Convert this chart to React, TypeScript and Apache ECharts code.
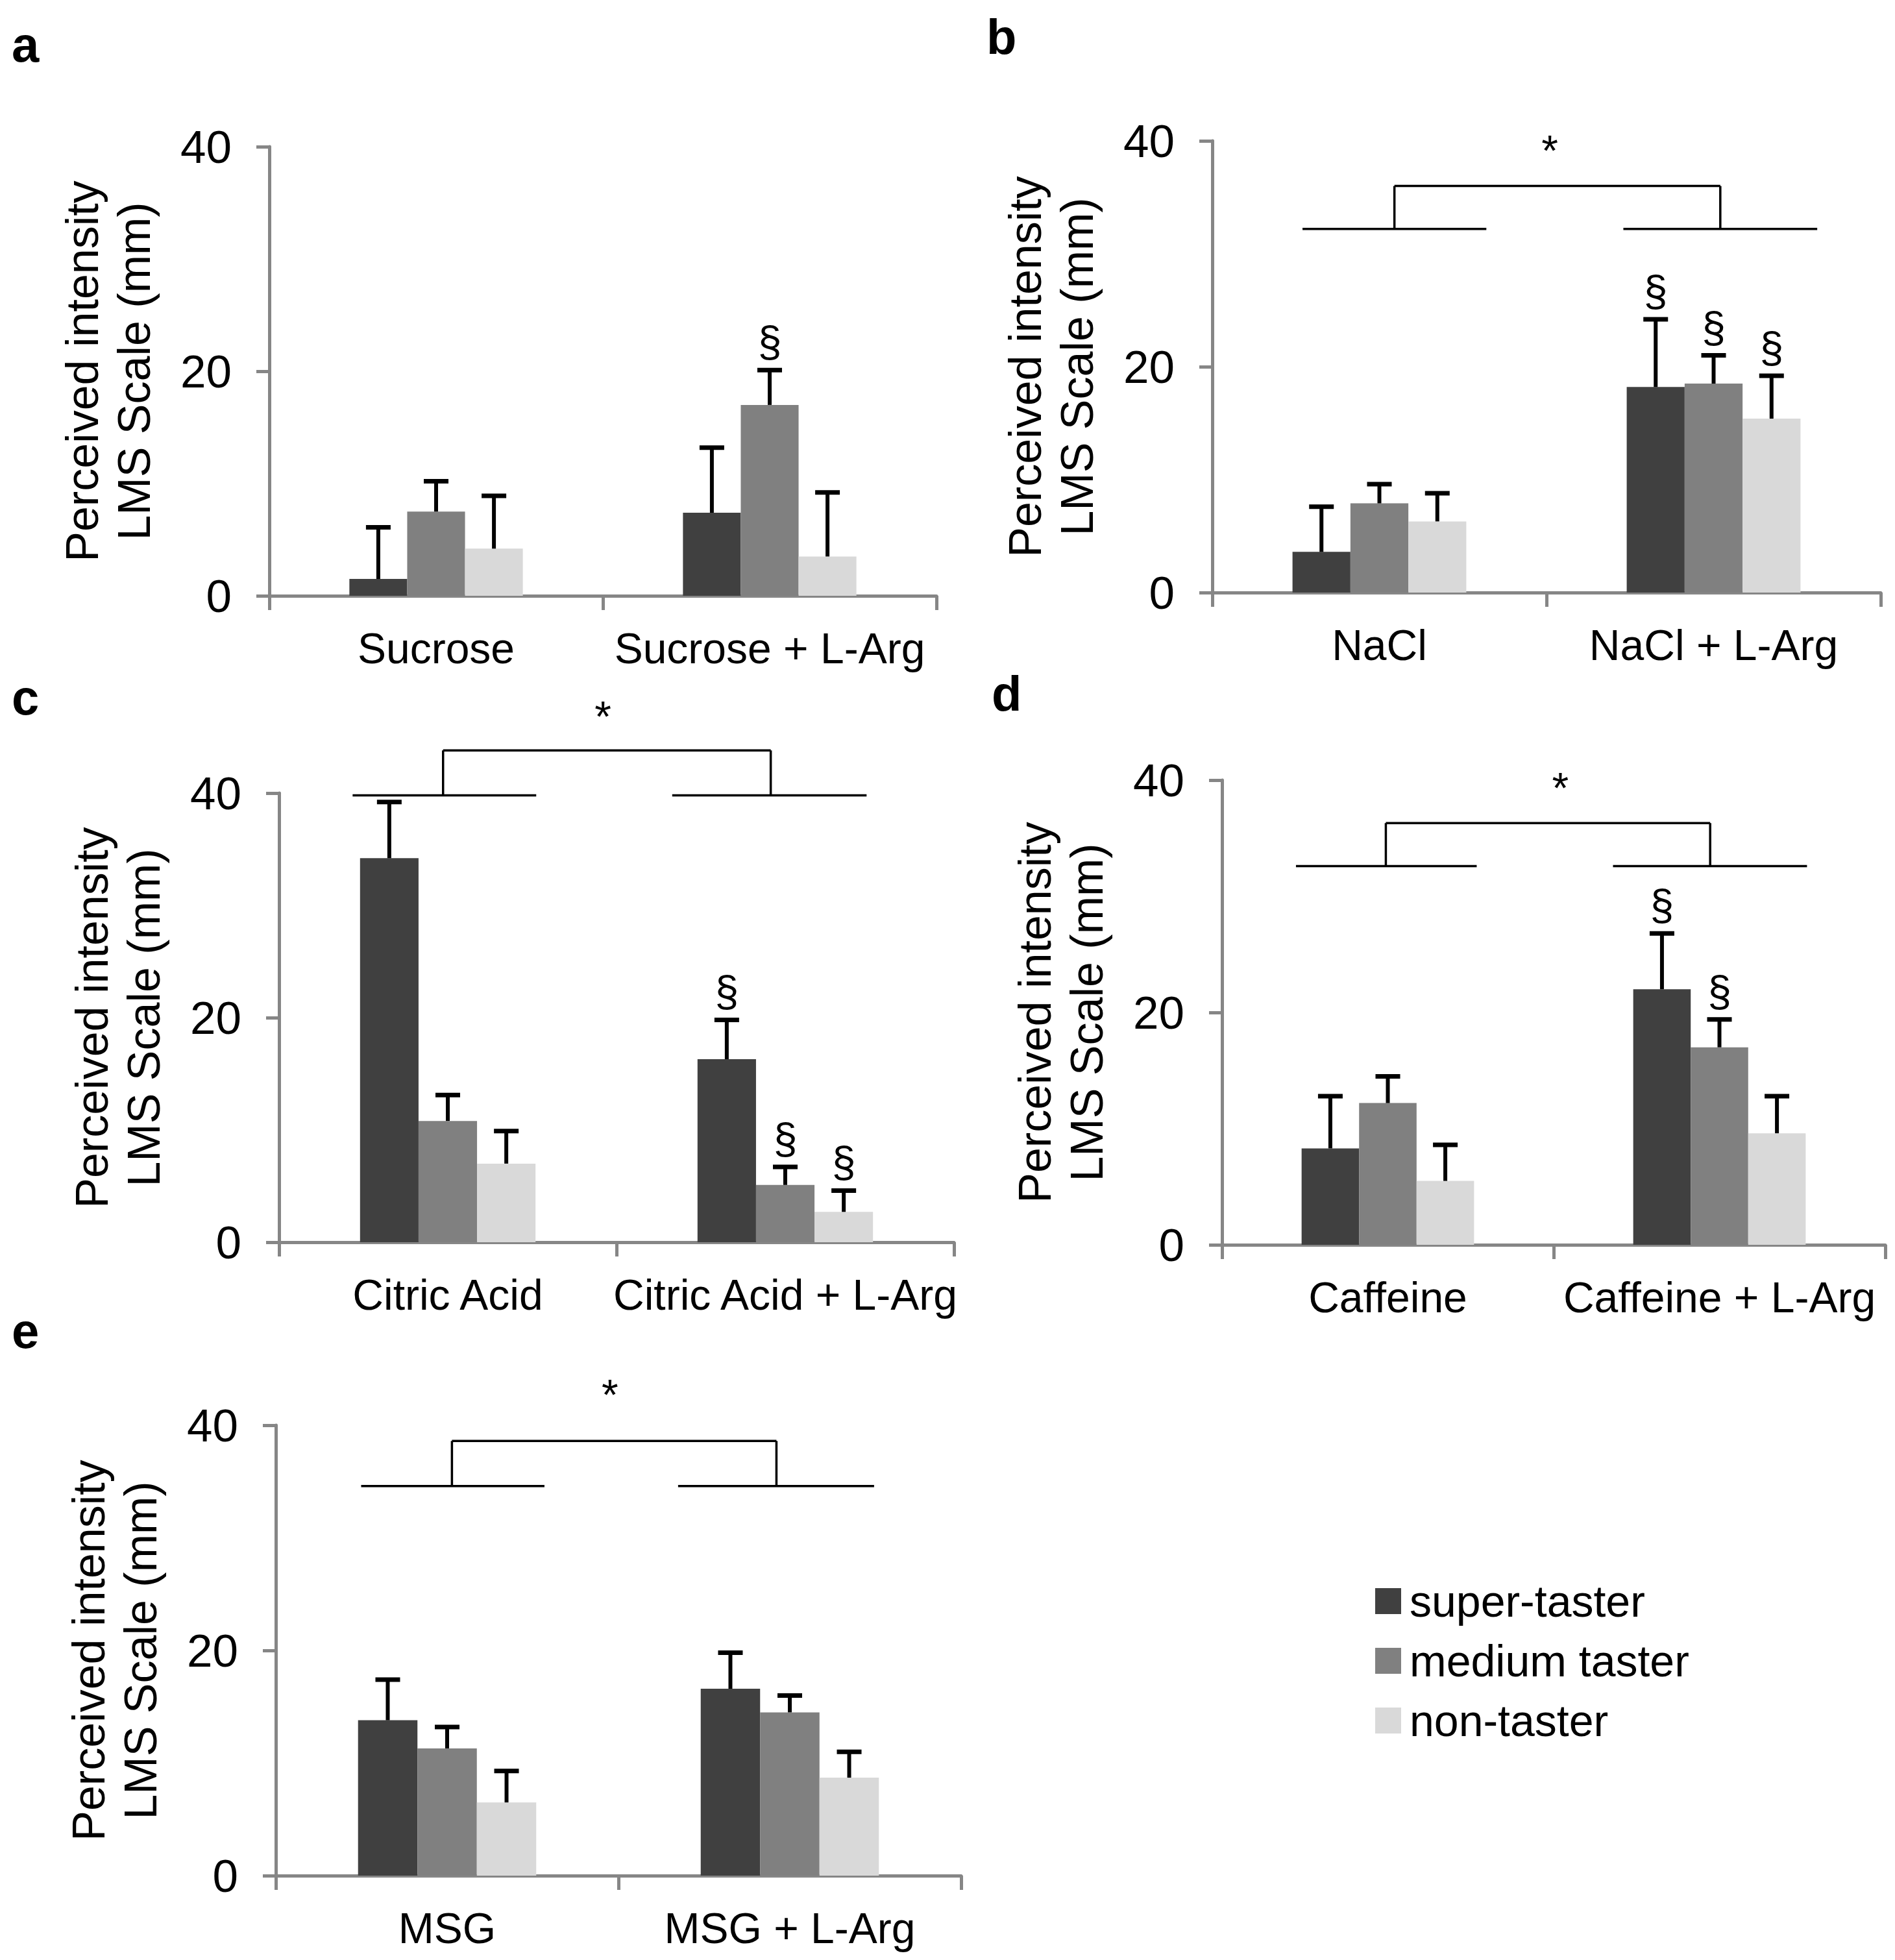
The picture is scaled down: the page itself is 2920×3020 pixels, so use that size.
import React, { useEffect, useRef } from 'react';
import * as echarts from 'echarts';

// taster groups and bar colours
const GROUPS = ['super-taster', 'medium taster', 'non-taster'];
const COLORS = ['#404040', '#808080', '#d9d9d9'];

// panel a
const catA = ['Sucrose', 'Sucrose + L-Arg'];
const meanA = [[1.5, 7.4], [7.5, 17.0], [4.2, 3.5]];
const errA = [[4.6, 5.8], [2.7, 3.1], [4.7, 5.7]];
const sigA = [[0, 0], [0, 1], [0, 0]];

// panel b
const catB = ['NaCl', 'NaCl + L-Arg'];
const meanB = [[3.6, 18.2], [7.9, 18.5], [6.3, 15.4]];
const errB = [[4.0, 6.0], [1.7, 2.5], [2.5, 3.8]];
const sigB = [[0, 1], [0, 1], [0, 1]];

// panel c
const catC = ['Citric Acid', 'Citric Acid + L-Arg'];
const meanC = [[34.2, 16.3], [10.8, 5.1], [7.0, 2.7]];
const errC = [[5.0, 3.5], [2.3, 1.6], [2.9, 1.9]];
const sigC = [[0, 1], [0, 1], [0, 1]];

// panel d
const catD = ['Caffeine', 'Caffeine + L-Arg'];
const meanD = [[8.3, 22.0], [12.2, 17.0], [5.5, 9.6]];
const errD = [[4.5, 4.8], [2.3, 2.4], [3.1, 3.2]];
const sigD = [[0, 1], [0, 1], [0, 0]];

// panel e
const catE = ['MSG', 'MSG + L-Arg'];
const meanE = [[13.8, 16.6], [11.3, 14.5], [6.5, 8.7]];
const errE = [[3.6, 3.2], [1.9, 1.5], [2.8, 2.3]];
const sigE = [[0, 0], [0, 0], [0, 0]];

const Y_TICKS = [0, 20, 40];

// significance brackets: [leftFrom, leftTo, rightFrom, rightTo, legL, legR, low, high, starX, starY]
const bracketB = [0.27, 0.82, 1.23, 1.81, 0.545, 1.52, 32.2, 36.0, 1.01, 39.7];
const bracketC = [0.218, 0.762, 1.165, 1.741, 0.486, 1.457, 39.8, 43.8, 0.96, 47.4];
const bracketD = [0.223, 0.768, 1.179, 1.764, 0.494, 1.472, 32.6, 36.3, 1.02, 39.9];
const bracketE = [0.249, 0.784, 1.174, 1.746, 0.514, 1.461, 34.6, 38.6, 0.975, 43.3];

const FONT = '"Liberation Sans", Arial, sans-serif';
const AXIS_COLOR = '#868686';
const CAT_GAP = 0.48;
const BAR_FRAC = (1 - CAT_GAP) / 3;

const panels = [
  { letter: 'a', cats: catA, mean: meanA, err: errA, sig: sigA, bracket: null, grid: { left: 415, top: 226, width: 1028, height: 692 }, lx: 18, ly: 30 },
  { letter: 'b', cats: catB, mean: meanB, err: errB, sig: sigB, bracket: bracketB, grid: { left: 1868, top: 217, width: 1030, height: 696 }, lx: 1520, ly: 18 },
  { letter: 'c', cats: catC, mean: meanC, err: errC, sig: sigC, bracket: bracketC, grid: { left: 430, top: 1222, width: 1040, height: 692 }, lx: 18, ly: 1036 },
  { letter: 'd', cats: catD, mean: meanD, err: errD, sig: sigD, bracket: bracketD, grid: { left: 1883, top: 1202, width: 1022, height: 716 }, lx: 1528, ly: 1030 },
  { letter: 'e', cats: catE, mean: meanE, err: errE, sig: sigE, bracket: bracketE, grid: { left: 425, top: 2196, width: 1056, height: 694 }, lx: 18, ly: 2012 },
];

const App: React.FC = () => {
  const chartRef = useRef<HTMLDivElement>(null);

  useEffect(() => {
    document.body.style.margin = '0';
    if (!chartRef.current) return;
    const chart = echarts.init(chartRef.current, null, { renderer: 'svg' });

    const grids: any[] = [];
    const xAxes: any[] = [];
    const yAxes: any[] = [];
    const series: any[] = [];
    const graphics: any[] = [];

    panels.forEach((p, k) => {
      grids.push({ ...p.grid, containLabel: false });
      xAxes.push({
        type: 'category',
        gridIndex: k,
        data: p.cats,
        axisLine: { lineStyle: { color: AXIS_COLOR, width: 5 } },
        axisTick: { show: true, length: 22, lineStyle: { color: AXIS_COLOR, width: 5 } },
        axisLabel: { color: '#000', fontSize: 66, fontFamily: FONT, margin: 48, interval: 0, hideOverlap: false },
      });
      xAxes.push({ type: 'value', gridIndex: k, min: 0, max: 2, show: false });
      yAxes.push({
        type: 'value',
        gridIndex: k,
        min: Y_TICKS[0],
        max: Y_TICKS[Y_TICKS.length - 1],
        interval: Y_TICKS[1] - Y_TICKS[0],
        name: 'Perceived intensity\nLMS Scale (mm)',
        nameLocation: 'middle',
        nameRotate: 90,
        nameGap: 168,
        nameTextStyle: { color: '#000', fontSize: 70, lineHeight: 80, fontFamily: FONT },
        axisLine: { show: true, lineStyle: { color: AXIS_COLOR, width: 5 } },
        axisTick: { show: true, length: 20, lineStyle: { color: AXIS_COLOR, width: 5 } },
        axisLabel: { color: '#000', fontSize: 71, fontFamily: FONT, margin: 58 },
        splitLine: { show: false },
      });

      p.mean.forEach((vals, s) => {
        series.push({
          name: GROUPS[s],
          type: 'bar',
          xAxisIndex: 2 * k,
          yAxisIndex: k,
          data: vals,
          barGap: '0%',
          barCategoryGap: CAT_GAP * 100 + '%',
          itemStyle: { color: COLORS[s] },
          silent: true,
        });
      });

      const errData: number[][] = [];
      p.mean.forEach((vals, s) => {
        vals.forEach((v, c) => errData.push([c, v, p.err[s][c], s, p.sig[s][c]]));
      });
      series.push({
        type: 'custom',
        xAxisIndex: 2 * k,
        yAxisIndex: k,
        data: errData,
        encode: { x: 0, y: 1 },
        z: 5,
        silent: true,
        renderItem: (_params: any, api: any) => {
          const c = api.value(0);
          const v = api.value(1);
          const e = api.value(2);
          const s = api.value(3);
          const sig = api.value(4);
          const band = api.size([1, 0])[0];
          const base = api.coord([c, v]);
          const top = api.coord([c, v + e]);
          const x = base[0] + band * BAR_FRAC * (s - 1);
          const children: any[] = [
            { type: 'line', shape: { x1: x, y1: base[1], x2: x, y2: top[1] }, style: { stroke: '#000', lineWidth: 6 } },
            { type: 'line', shape: { x1: x - 19, y1: top[1], x2: x + 19, y2: top[1] }, style: { stroke: '#000', lineWidth: 7 } },
          ];
          if (sig) {
            children.push({
              type: 'text',
              x,
              y: top[1] - 44,
              style: { text: '§', fontSize: 66, fontFamily: FONT, fill: '#000', align: 'center', verticalAlign: 'middle' },
            });
          }
          return { type: 'group', children };
        },
      });

      if (p.bracket) {
        series.push({
          type: 'custom',
          xAxisIndex: 2 * k + 1,
          yAxisIndex: k,
          data: [p.bracket],
          encode: { x: 0, y: 6 },
          clip: false,
          silent: true,
          renderItem: (_params: any, api: any) => {
            const b = Array.from({ length: 10 }, (_, i) => api.value(i));
            const pt = (u: number, y: number) => api.coord([u, y]);
            const st = { stroke: '#000', lineWidth: 3.5 };
            const seg = (u1: number, y1: number, u2: number, y2: number) => {
              const a = pt(u1, y1);
              const z = pt(u2, y2);
              return { type: 'line', shape: { x1: a[0], y1: a[1], x2: z[0], y2: z[1] }, style: st };
            };
            const star = pt(b[8], b[9]);
            return {
              type: 'group',
              children: [
                seg(b[0], b[6], b[1], b[6]),
                seg(b[2], b[6], b[3], b[6]),
                seg(b[4], b[6], b[4], b[7]),
                seg(b[5], b[6], b[5], b[7]),
                seg(b[4], b[7], b[5], b[7]),
                {
                  type: 'text',
                  x: star[0],
                  y: star[1] + 10,
                  style: { text: '*', fontSize: 66, fontFamily: FONT, fill: '#000', align: 'center', verticalAlign: 'middle' },
                },
              ],
            };
          },
        });
      }

      graphics.push({
        type: 'text',
        left: p.lx,
        top: p.ly,
        style: { text: p.letter, fontSize: 76, fontWeight: 'bold', fontFamily: FONT, fill: '#000' },
      });
    });

    chart.setOption({
      animation: false,
      backgroundColor: '#fff',
      grid: grids,
      xAxis: xAxes,
      yAxis: yAxes,
      series,
      graphic: graphics,
      legend: {
        data: GROUPS,
        orient: 'vertical',
        left: 2114,
        top: 2428,
        icon: 'rect',
        itemWidth: 40,
        itemHeight: 40,
        itemGap: 24,
        selectedMode: false,
        textStyle: { color: '#000', fontSize: 68, fontFamily: FONT, lineHeight: 40, padding: [0, 0, 0, 8] },
      },
    });

    return () => {
      chart.dispose();
    };
  }, []);

  return <div ref={chartRef} style={{ width: '2920px', height: '3020px' }} />;
};

export default App;
